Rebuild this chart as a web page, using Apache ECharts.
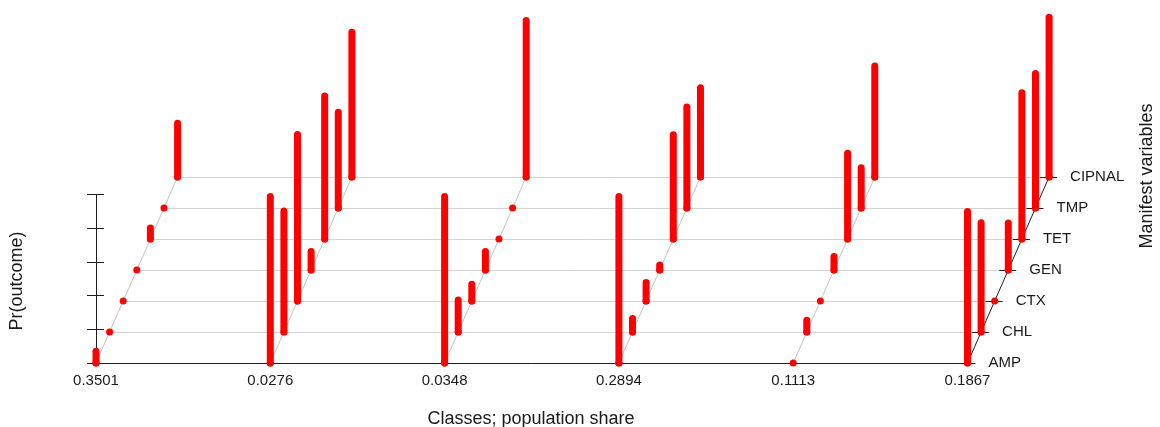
<!DOCTYPE html>
<html>
<head>
<meta charset="utf-8">
<script src="https://cdn.jsdelivr.net/npm/echarts@6/dist/echarts.min.js"></script>
<style>
  html, body { margin: 0; padding: 0; background: #ffffff; }
  #chart { width: 1160px; height: 427px; }
</style>
</head>
<body>
<div id="chart"></div>
<script>
// Latent class model: population share of each class
const classShares = ['0.3501', '0.0276', '0.0348', '0.2894', '0.1113', '0.1867'];
// Manifest variables, front row to back row
const manifestVars = ['AMP', 'CHL', 'CTX', 'GEN', 'TET', 'TMP', 'CIPNAL'];

// Pr(outcome) per manifest variable, one array per class
const class1Probs = [0.07, 0.00, 0.00, 0.00, 0.065, 0.00, 0.32];
const class2Probs = [0.99, 0.72, 0.99, 0.11, 0.85, 0.57, 0.86];
const class3Probs = [0.99, 0.19, 0.10, 0.11, 0.00, 0.00, 0.93];
const class4Probs = [0.99, 0.08, 0.11, 0.03, 0.62, 0.60, 0.53];
const class5Probs = [0.00, 0.07, 0.00, 0.08, 0.51, 0.24, 0.66];
const class6Probs = [0.90, 0.65, 0.00, 0.28, 0.87, 0.80, 0.95];

// Tick marks on the probability axis
const probTicks = [0, 0.2, 0.4, 0.6, 0.8, 1];

const classProbs = [class1Probs, class2Probs, class3Probs, class4Probs, class5Probs, class6Probs];

// Oblique projection: every row further back shifts right and up
const DEPTH_X = 0.078;   // in class units
const DEPTH_Y = 0.1843;  // in probability units
const TICK_L = 0.0516, TICK_R = 0.0459;

const nClass = classShares.length;
const nVar = manifestVars.length;
const lastClass = nClass - 1;
const backRow = nVar - 1;

const GRID_GRAY = '#d3d3d3';
const DIAG_GRAY = '#c4c4c4';
const AXIS_DARK = '#1e1e1e';
const BAR_RED = '#ff0000';
const LABEL_FONT = '15px "Liberation Sans", Arial, sans-serif';
const TITLE_FONT = '18px "Liberation Sans", Arial, sans-serif';

// Line segments: [x1, y1, x2, y2, colourIndex]
const colours = [GRID_GRAY, DIAG_GRAY, AXIS_DARK];
const segments = [];
for (let r = 1; r < nVar; r++) {
  segments.push([r * DEPTH_X, r * DEPTH_Y, lastClass + r * DEPTH_X, r * DEPTH_Y, 0]);
}
for (let c = 0; c < lastClass; c++) {
  segments.push([c, 0, c + backRow * DEPTH_X, backRow * DEPTH_Y, 1]);
}
// front baseline and the depth axis of the last class
segments.push([0, 0, lastClass, 0, 2]);
segments.push([lastClass, 0, lastClass + backRow * DEPTH_X, backRow * DEPTH_Y, 2]);
for (let r = 0; r < nVar; r++) {
  const x = lastClass + r * DEPTH_X;
  segments.push([x - TICK_L, r * DEPTH_Y, x + TICK_R, r * DEPTH_Y, 2]);
}
// probability axis
segments.push([0, 0, 0, probTicks[probTicks.length - 1], 2]);
probTicks.forEach(function (p) {
  segments.push([-TICK_L, p, TICK_R, p, 2]);
});

// Bars: [classIndex, rowIndex, probability]
const bars = [];
classProbs.forEach(function (probs, c) {
  probs.forEach(function (p, r) { bars.push([c, r, p]); });
});

// Text: [x, y, text, kind]
const texts = [];
classShares.forEach(function (s, c) { texts.push([c, 0, s, 0]); });
manifestVars.forEach(function (v, r) {
  texts.push([lastClass + r * DEPTH_X, r * DEPTH_Y, v, 1]);
});

function crisp(v) { return Math.round(v - 0.5) + 0.5; }

function renderSegment(params, api) {
  const a = api.coord([api.value(0), api.value(1)]);
  const b = api.coord([api.value(2), api.value(3)]);
  let x1 = a[0], y1 = a[1], x2 = b[0], y2 = b[1];
  if (Math.abs(y1 - y2) < 0.01) { y1 = y2 = crisp(y1); }
  if (Math.abs(x1 - x2) < 0.01) { x1 = x2 = crisp(x1); }
  return {
    type: 'line',
    shape: { x1: x1, y1: y1, x2: x2, y2: y2 },
    style: { stroke: colours[api.value(4)], lineWidth: 1 },
    silent: true
  };
}

function renderBar(params, api) {
  const c = api.value(0), r = api.value(1), p = api.value(2);
  const x = c + r * DEPTH_X;
  const base = api.coord([x, r * DEPTH_Y]);
  const top = api.coord([x, r * DEPTH_Y + p]);
  return {
    type: 'group',
    children: [
      {
        type: 'line',
        shape: { x1: base[0], y1: base[1], x2: top[0], y2: top[1] },
        style: { stroke: BAR_RED, lineWidth: 7, lineCap: 'round' }
      },
      {
        type: 'circle',
        shape: { cx: base[0], cy: base[1], r: 3.5 },
        style: { fill: BAR_RED }
      }
    ]
  };
}

function renderText(params, api) {
  const pt = api.coord([api.value(0), api.value(1)]);
  const kind = api.value(3);
  const label = texts[params.dataIndex][2];
  if (kind === 0) {
    return {
      type: 'text', x: pt[0], y: pt[1] + 18,
      style: { text: label, font: LABEL_FONT, fill: '#1a1a1a', align: 'center', verticalAlign: 'middle' }
    };
  }
  return {
    type: 'text', x: pt[0] + 21, y: pt[1],
    style: { text: label, font: LABEL_FONT, fill: '#1a1a1a', align: 'left', verticalAlign: 'middle' }
  };
}

const chart = echarts.init(document.getElementById('chart'), null, { renderer: 'canvas' });

chart.setOption({
  animation: false,
  backgroundColor: '#ffffff',
  grid: { left: 61.14, width: 1010.94, top: 9.78, height: 353.22 },
  xAxis: { type: 'value', min: -0.2, max: 5.6, show: false },
  yAxis: { type: 'value', min: 0, max: 2.1, show: false },
  graphic: [
    {
      type: 'text', x: 531, y: 419,
      style: { text: 'Classes; population share', font: TITLE_FONT, fill: '#1a1a1a', align: 'center', verticalAlign: 'middle' }
    },
    {
      type: 'text', x: 17, y: 281, rotation: Math.PI / 2,
      style: { text: 'Pr(outcome)', font: TITLE_FONT, fill: '#1a1a1a', align: 'center', verticalAlign: 'middle' }
    },
    {
      type: 'text', x: 1147, y: 176, rotation: Math.PI / 2,
      style: { text: 'Manifest variables', font: TITLE_FONT, fill: '#1a1a1a', align: 'center', verticalAlign: 'middle' }
    }
  ],
  series: [
    { type: 'custom', renderItem: renderSegment, data: segments, clip: false, silent: true, z: 1 },
    { type: 'custom', renderItem: renderBar, data: bars, clip: false, silent: true, z: 2 },
    { type: 'custom', renderItem: renderText, data: texts.map(function (t) { return [t[0], t[1], 0, t[3]]; }), clip: false, silent: true, z: 3 }
  ]
});
</script>
</body>
</html>
